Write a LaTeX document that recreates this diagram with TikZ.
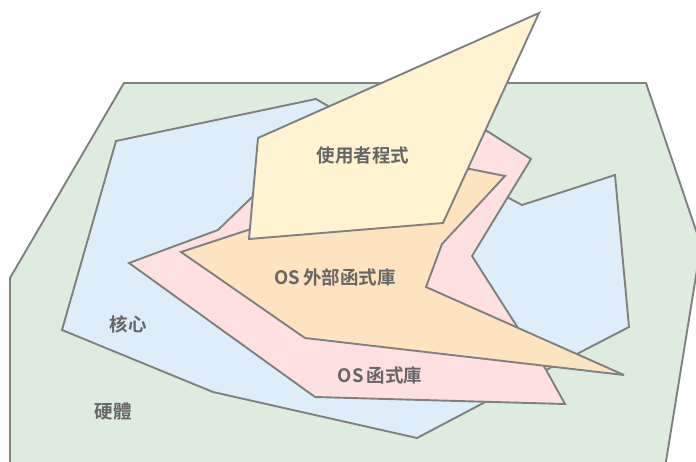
\documentclass[tikz,border=0pt]{standalone}
\usepackage{fontspec}
\newfontfamily\cjk{Noto Sans CJK TC}[BoldFont={Noto Sans CJK TC Bold}]
\definecolor{hwfill}{HTML}{DDECDF}
\definecolor{kfill}{HTML}{DDEEFA}
\definecolor{libfill}{HTML}{FDE0DF}
\definecolor{extfill}{HTML}{FDE4C1}
\definecolor{userfill}{HTML}{FFF3D1}
\definecolor{edge}{HTML}{808080}
\definecolor{txt}{HTML}{666666}
\tikzset{
  layer/.style={draw=edge, line width=1.9pt, line join=miter, miter limit=5},
  lbl/.style={text=txt, font=\cjk\bfseries\fontsize{18.5}{20}\selectfont, inner sep=0pt}
}
\begin{document}
\begin{tikzpicture}[x=1pt,y=-1pt]
\useasboundingbox (0,0) rectangle (696,462);
\begin{scope}
\clip (0,0) rectangle (696,462);
% hardware
\path[layer, fill=hwfill] (124,83) -- (646,83) -- (701,245) -- (663,480) -- (10,480) -- (10,278) -- cycle;
% kernel
\path[layer, fill=kfill] (316,99) -- (328,106) -- (505,196) -- (522,205) -- (615,175) -- (629,327) -- (546,370) -- (417,438) -- (213,392) -- (62,330) -- (116,141) -- cycle;
% OS library
\path[layer, fill=libfill] (129,263) -- (218,230) -- (280,170) -- (487,131) -- (531,159) -- (472,256) -- (518,328) -- (545,368) -- (565,404) -- (315,397) -- cycle;
% OS external library
\path[layer, fill=extfill] (181,252) -- (248,230) -- (470,169) -- (505,176) -- (442,244) -- (426,287) -- (624,375) -- (305,338) -- cycle;
% user program
\path[layer, fill=userfill] (258,138) -- (539,13) -- (443,223) -- (249,239) -- cycle;
\end{scope}
\node[lbl] (user) at (363,155) {使用者程式};
\node[lbl] (ext) at (335,277) {OS\hspace{3pt}外部函式庫};
\node[lbl] (lib) at (380,375) {OS\hspace{3pt}函式庫};
\node[lbl] (kern) at (128,324) {核心};
\node[lbl] (hw) at (113,412) {硬體};
\end{tikzpicture}
\end{document}
